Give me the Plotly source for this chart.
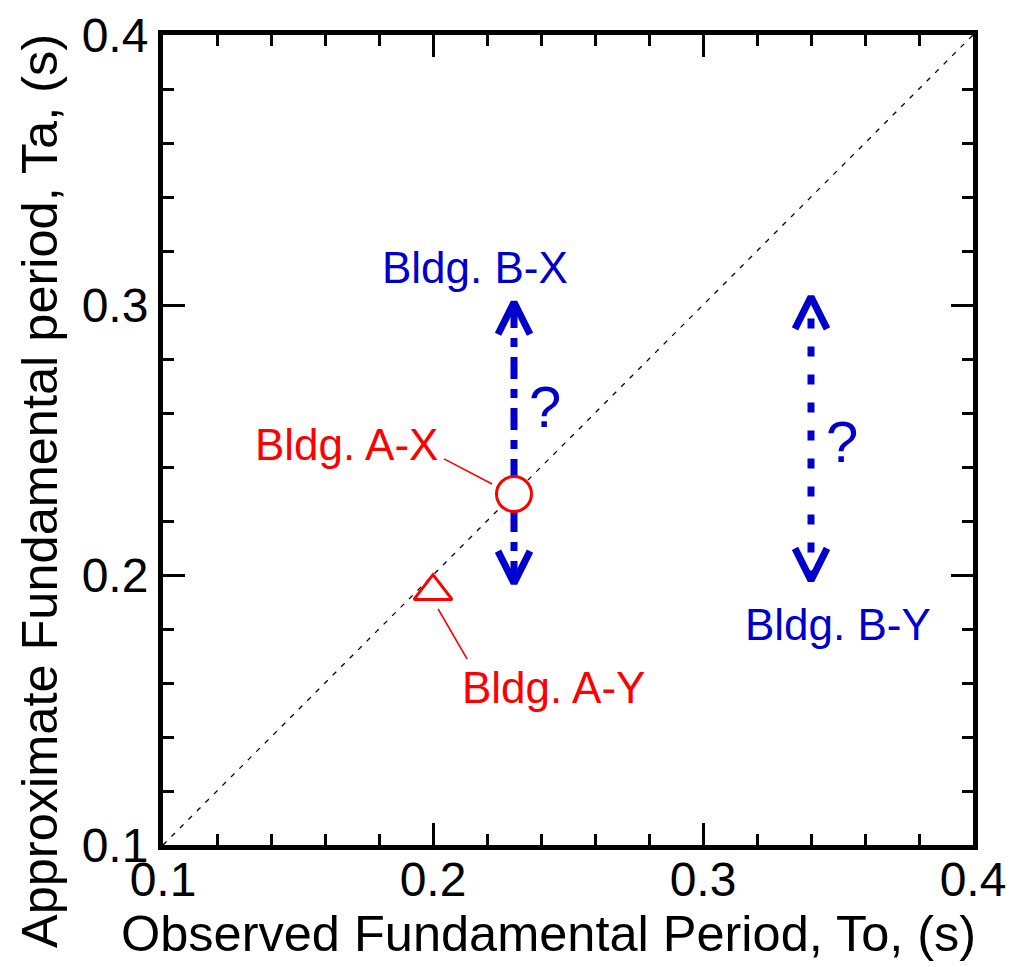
import plotly.graph_objects as go

# ---------------- data ----------------
axis_range = [0.1, 0.4]
tick_vals = [0.1, 0.2, 0.3, 0.4]
tick_text = ["0.1", "0.2", "0.3", "0.4"]

x_title = "Observed Fundamental Period, To, (s)"
y_title = "Approximate Fundamental period, Ta, (s)"

# Building A: observed vs approximate period (points)
a_names = ["Bldg. A-X", "Bldg. A-Y"]
a_to = [0.23, 0.20]
a_ta = [0.23, 0.194]
a_symbols = ["circle", "triangle-up"]

# Building B: observed period with unknown approximate period range
b_names = ["Bldg. B-X", "Bldg. B-Y"]
b_to = [0.23, 0.34]
b_ta_low = [0.197, 0.198]
b_ta_high = [0.301, 0.303]
b_dash = ["22px,10px,9px,10px", "10px,18px"]

# label positions (data coords)
a_label_x = [0.168, 0.2445]
a_label_y = [0.2485, 0.1585]
a_leader_x0 = [0.2041, 0.2019]
a_leader_y0 = [0.2430, 0.1874]
a_leader_x1 = [0.2219, 0.2126]
a_leader_y1 = [0.2337, 0.1689]

b_label_x = [0.2156, 0.350]
b_label_y = [0.3140, 0.1817]
q_x = [0.2415, 0.3515]
q_y = [0.2625, 0.2495]

# ---------------- style ----------------
W, H = 1010, 967
M_L, M_R, M_T, M_B = 163, 37, 35, 122
RED = "#ff0000"
BLUE = "#0000cc"
FONT = "Liberation Sans, Arial, Helvetica, sans-serif"
PW = W - M_L - M_R
PH = H - M_T - M_B
px_per_x = PW / (axis_range[1] - axis_range[0])
px_per_y = PH / (axis_range[1] - axis_range[0])
ARROW_LEN = 32 / px_per_y
ARROW_HALF = 16 / px_per_x

fig = go.Figure()

# 1:1 line
fig.add_trace(go.Scatter(x=axis_range, y=axis_range, mode="lines",
                         line=dict(color="black", width=1.3, dash="5px,7px"),
                         hoverinfo="skip", showlegend=False))

# Building B range arrows
for i in range(len(b_names)):
    x = b_to[i]
    fig.add_trace(go.Scatter(x=[x, x], y=[b_ta_low[i], b_ta_high[i]], mode="lines",
                             line=dict(color=BLUE, width=7, dash=b_dash[i]),
                             showlegend=False, hoverinfo="skip"))
    fig.add_trace(go.Scatter(
        x=[x - ARROW_HALF, x, x + ARROW_HALF],
        y=[b_ta_high[i] - ARROW_LEN, b_ta_high[i], b_ta_high[i] - ARROW_LEN],
        mode="lines", line=dict(color=BLUE, width=7),
        showlegend=False, hoverinfo="skip"))
    fig.add_trace(go.Scatter(
        x=[x - ARROW_HALF, x, x + ARROW_HALF],
        y=[b_ta_low[i] + ARROW_LEN, b_ta_low[i], b_ta_low[i] + ARROW_LEN],
        mode="lines", line=dict(color=BLUE, width=7),
        showlegend=False, hoverinfo="skip"))

# leader lines for A labels
for i in range(len(a_names)):
    fig.add_trace(go.Scatter(x=[a_leader_x0[i], a_leader_x1[i]],
                             y=[a_leader_y0[i], a_leader_y1[i]], mode="lines",
                             line=dict(color=RED, width=1.6),
                             showlegend=False, hoverinfo="skip"))

# Building A points
fig.add_trace(go.Scatter(x=a_to, y=a_ta, mode="markers",
                         marker=dict(symbol=a_symbols, size=[35, 33], color="white",
                                     opacity=1, line=dict(color=RED, width=3)),
                         showlegend=False, hoverinfo="skip"))

annotations = []
for i in range(len(a_names)):
    annotations.append(dict(x=a_label_x[i], y=a_label_y[i], text=a_names[i],
                            showarrow=False, font=dict(size=44, color=RED, family=FONT)))
for i in range(len(b_names)):
    annotations.append(dict(x=b_label_x[i], y=b_label_y[i], text=b_names[i],
                            showarrow=False, font=dict(size=44, color=BLUE, family=FONT)))
    annotations.append(dict(x=q_x[i], y=q_y[i], text="?",
                            showarrow=False, font=dict(size=58, color=BLUE, family=FONT)))

# axis titles placed as paper annotations
annotations.append(dict(xref="paper", yref="paper", x=(548 - M_L) / PW, y=(M_T + PH - 933) / PH,
                        xanchor="center", yanchor="middle", showarrow=False, text=x_title,
                        font=dict(size=50.5, color="black", family=FONT)))
annotations.append(dict(xref="paper", yref="paper", x=(40 - M_L) / PW, y=(M_T + PH - 491) / PH,
                        xanchor="center", yanchor="middle", showarrow=False, text=y_title,
                        textangle=-90, font=dict(size=50.5, color="black", family=FONT)))

axis_common = dict(
    range=axis_range, tickvals=tick_vals, ticktext=tick_text, automargin=False,
    showgrid=False, zeroline=False, showline=True, linewidth=5, linecolor="black",
    mirror="allticks", ticks="inside", ticklen=22, tickwidth=3, tickcolor="black",
    minor=dict(dtick=0.02, ticks="inside", ticklen=11, tickwidth=3, tickcolor="black"),
    tickfont=dict(size=48, color="black", family=FONT),
)

fig.update_layout(
    width=W, height=H,
    margin=dict(l=M_L, r=M_R, t=M_T, b=M_B),
    plot_bgcolor="white", paper_bgcolor="white",
    xaxis=dict(**axis_common, ticklabelstandoff=-12),
    yaxis=dict(**axis_common),
    annotations=annotations,
)

fig.write_html("out.html", config={"displayModeBar": False},
               post_script="document.body.style.margin='0';document.body.style.overflow='hidden';")
